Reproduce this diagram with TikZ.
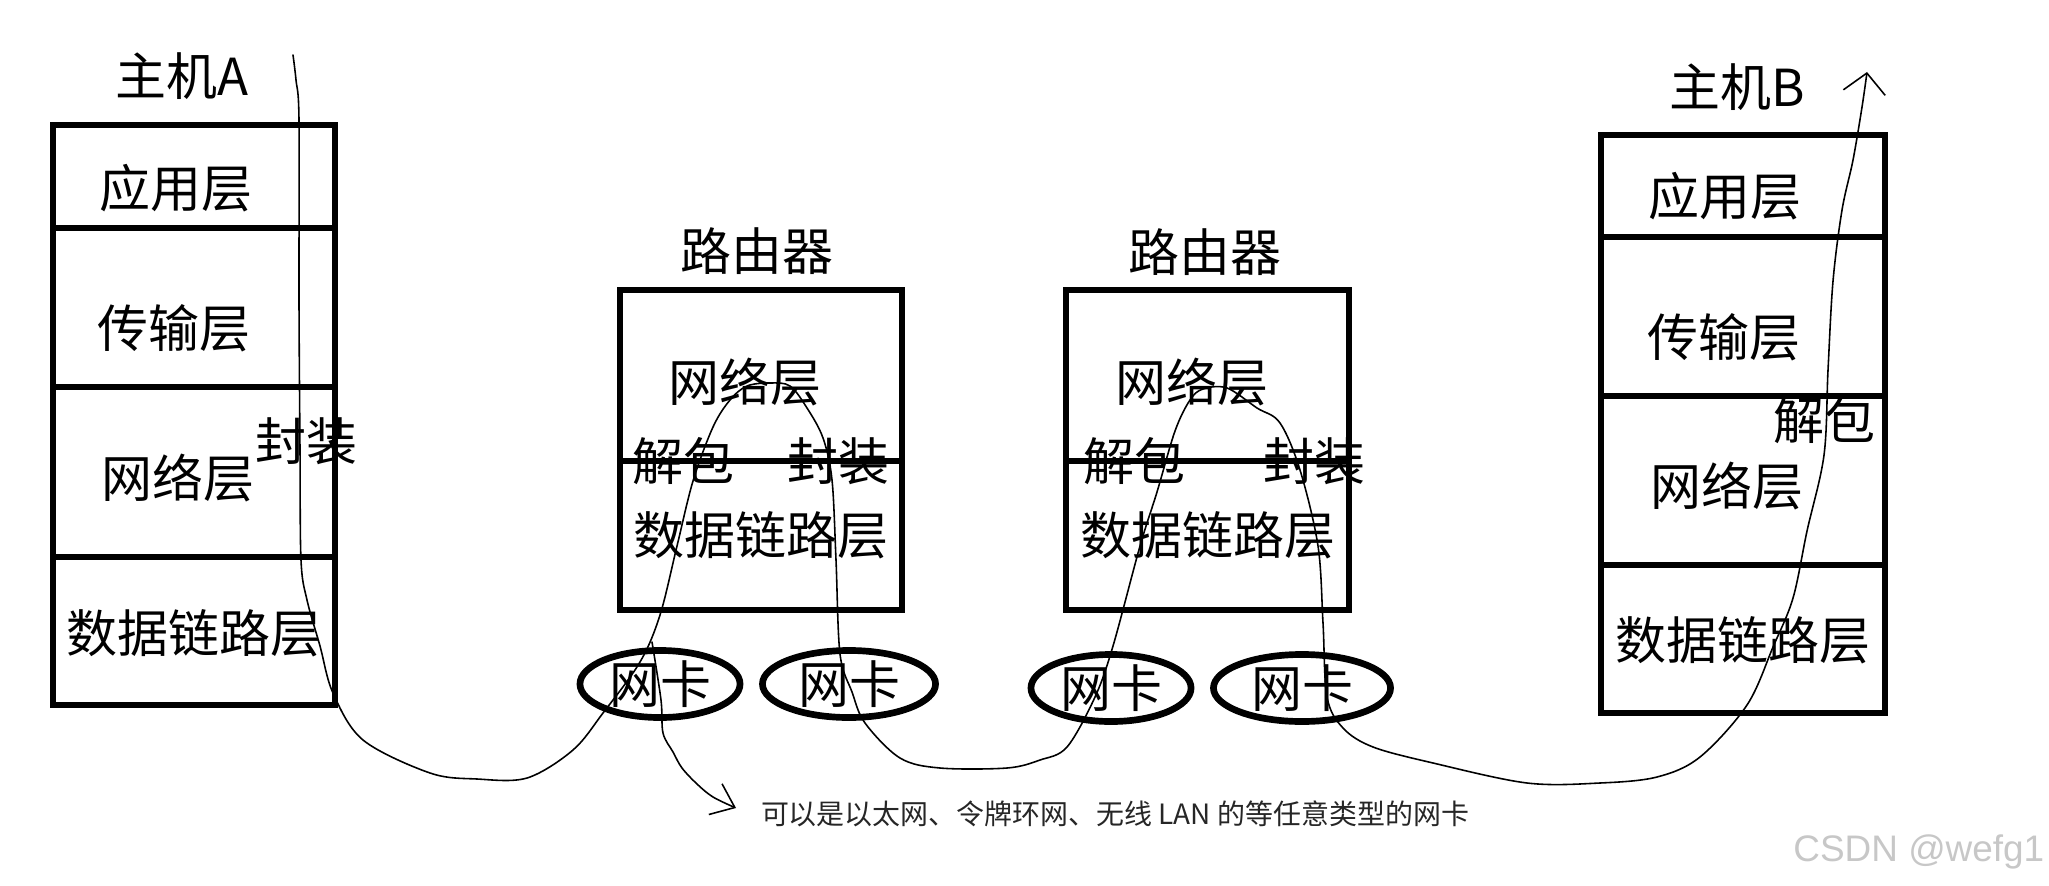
\documentclass[tikz,border=0pt]{standalone}
\usepackage{fontspec}
\setmainfont{Noto Sans CJK SC}
\newfontfamily\wmfont{Liberation Sans}
\usetikzlibrary{arrows.meta,shapes.geometric,calc}

\begin{document}
\begin{tikzpicture}[x=0.01cm,y=-0.01cm,
    lbl/.style={inner sep=0pt,font=\fontsize{14.5}{17}\selectfont},
    stack/.style={line width=1.9pt},
    nic/.style={draw,ellipse,line width=1.9pt,inner sep=0pt,minimum height=0.67cm,font=\fontsize{14.5}{17}\selectfont},
    flow/.style={line width=0.45pt,line cap=round,line join=round}]
    \useasboundingbox (0,0) rectangle (2049,885);

    \draw[stack] (53,125) rectangle (335,705);
    \draw[stack] (53,228) -- (335,228);
    \draw[stack] (53,387) -- (335,387);
    \draw[stack] (53,557) -- (335,557);
    \node (hAname) at (182,76) [lbl] {主机A};
    \node (hAapp) at (176,188) [lbl] {应用层};
    \node (hAtrans) at (174,328) [lbl] {传输层};
    \node (hAnet) at (178,478) [lbl] {网络层};
    \node (hAlink) at (194,633) [lbl] {数据链路层};
    \node (hAenc) at (306,441) [lbl] {封装};

    \draw[stack] (620,290) rectangle (902,610);
    \draw[stack] (620,461) -- (902,461);
    \node (rAname) at (757,251) [lbl] {路由器};
    \node (rAnet) at (745,382) [lbl] {网络层};
    \node (rAdec) at (683,461) [lbl] {解包};
    \node (rAenc) at (838,461) [lbl] {封装};
    \node (rAlink) at (761,535) [lbl] {数据链路层};
    \node (rAnicL) at (660,684) [nic,minimum width=1.60cm] {网卡};
    \node (rAnicR) at (849,684) [nic,minimum width=1.73cm] {网卡};

    \draw[stack] (1066,290) rectangle (1349,610);
    \draw[stack] (1066,461) -- (1349,461);
    \node (rBname) at (1205,252) [lbl] {路由器};
    \node (rBnet) at (1192,382) [lbl] {网络层};
    \node (rBdec) at (1134,461) [lbl] {解包};
    \node (rBenc) at (1314,461) [lbl] {封装};
    \node (rBlink) at (1208,535) [lbl] {数据链路层};
    \node (rBnicL) at (1111,688) [nic,minimum width=1.60cm] {网卡};
    \node (rBnicR) at (1302,688) [nic,minimum width=1.77cm] {网卡};

    \draw[stack] (1601,135) rectangle (1885,713);
    \draw[stack] (1601,237) -- (1885,237);
    \draw[stack] (1601,396) -- (1885,396);
    \draw[stack] (1601,565) -- (1885,565);
    \node (hBname) at (1737,87) [lbl] {主机B};
    \node (hBapp) at (1725,196) [lbl] {应用层};
    \node (hBtrans) at (1724,337) [lbl] {传输层};
    \node (hBnet) at (1727,486) [lbl] {网络层};
    \node (hBlink) at (1743,640) [lbl] {数据链路层};
    \node (hBdec) at (1824,420) [lbl] {解包};

    \node (note) at (1115,814) [inner sep=0pt,text=black!85,font=\fontsize{7.95}{10}\selectfont] {可以是以太网、令牌环网、无线 LAN 的等任意类型的网卡};
    \node (mark) at (2045,852) [anchor=east,inner sep=0pt,text=black!22,font=\wmfont\fontsize{10.5}{12}\selectfont] {CSDN @wefg1};

    \coordinate (start) at (293,55);
    \coordinate (split) at (652,642);
    \coordinate (tipB) at (1867,72);
    \draw[flow,-{Straight Barb[length=5.6pt,width=12pt]}] plot[smooth,tension=0.55] coordinates {
      (start) (296,80) (299,120) (299,300) (300,450) (301,560) (307,600) (320,646) (333,693)
      (363,740) (430,773) (477,779) (527,778) (573,750) (603,713) (640,662) (660,615)
      (677,546) (693,481) (713,427) (730,400) (747,386) (770,383) (790,386) (807,408)
      (823,438) (832,480) (836,560) (840,654) (852,692) (865,723) (900,758) (940,768)
      (1007,768) (1040,760) (1067,747) (1095,697) (1113,646) (1140,546) (1157,492)
      (1175,431) (1190,400) (1203,389) (1227,388) (1257,408) (1280,423) (1300,470)
      (1318,546) (1323,623) (1327,697) (1343,728) (1373,747) (1433,763) (1527,783)
      (1600,783) (1657,777) (1700,757) (1747,705) (1773,647) (1793,598) (1807,531)
      (1824,455) (1828,370) (1833,281) (1842,210) (1853,160) (1862,107) (tipB)};
    \draw[flow,-{Straight Barb[length=6pt,width=9.5pt]}] plot[smooth,tension=0.55] coordinates {
      (split) (661,700) (663,733) (673,752) (682,768) (697,784) (713,797) (736,808)};
  \end{tikzpicture}
\end{document}
